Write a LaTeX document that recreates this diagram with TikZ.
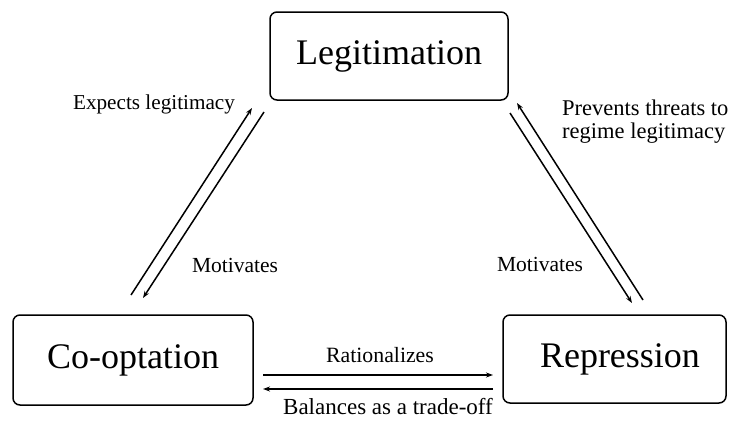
\documentclass[tikz,border=0pt]{standalone}
\usepackage{fontspec}
\setmainfont{Liberation Serif}
\usetikzlibrary{arrows.meta}
\tikzset{
  box/.style={draw, line width=1.5pt, rounded corners=7pt, font=\fontsize{36}{40}\selectfont, inner sep=0pt},
  lbl/.style={font=\fontsize{21.5}{23.5}\selectfont, inner sep=0pt, align=left},
  arr/.style={line width=1.5pt, -{Stealth[length=7pt,width=5pt]}}
}
\begin{document}
\begin{tikzpicture}[x=1pt,y=-1pt]
\useasboundingbox (0,0) rectangle (729,421);
\node[box, minimum width=238pt, minimum height=88pt] (leg) at (389,56) {Legitimation};
\node[box, minimum width=240pt, minimum height=90pt] (coop) at (133,360) {Co-optation};
\node[box, minimum width=223pt, minimum height=88pt] (rep) at (614.5,359) {\hspace*{11pt}Repression};

% left pair
\coordinate (l1s) at (131,295);
\coordinate (l1e) at (252,108);
\coordinate (l2s) at (264,112);
\coordinate (l2e) at (143,298);
\draw[arr] (l1s) -- (l1e);
\draw[arr] (l2s) -- (l2e);

% right pair
\coordinate (r1s) at (643,300);
\coordinate (r1e) at (517,103);
\coordinate (r2s) at (510,113);
\coordinate (r2e) at (632,303);
\draw[arr] (r1s) -- (r1e);
\draw[arr] (r2s) -- (r2e);

% bottom pair
\coordinate (b1s) at (263,375);
\coordinate (b1e) at (493,375);
\coordinate (b2s) at (493,389);
\coordinate (b2e) at (263,389);
\draw[arr] (b1s) -- (b1e);
\draw[arr] (b2s) -- (b2e);

\node[lbl, font=\fontsize{21.2}{23}\selectfont] (t1) at (154,104) {Expects legitimacy};
\node[lbl] (t2) at (235,265) {Motivates};
\node[lbl] (t3) at (540,264) {Motivates};
\node[lbl, font=\fontsize{22.5}{23}\selectfont, anchor=west] (t4) at (562,122) {Prevents threats to\\regime legitimacy};
\node[lbl, font=\fontsize{21.8}{23}\selectfont] (t5) at (380,355) {Rationalizes};
\node[lbl, font=\fontsize{23}{25}\selectfont] (t6) at (388,407) {Balances as a trade-off};
\end{tikzpicture}
\end{document}
